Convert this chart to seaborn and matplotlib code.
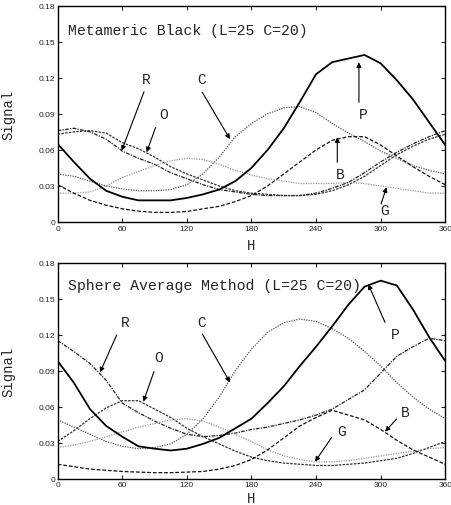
import matplotlib
matplotlib.use("Agg")
import matplotlib.pyplot as plt
import seaborn as sns
import pandas as pd

# ---------------- data ----------------
hue = [0, 15, 30, 45, 60, 75, 90, 105, 120, 135, 150, 165, 180,
       195, 210, 225, 240, 255, 270, 285, 300, 315, 330, 345, 360]

# Top panel: Metameric Black
top_P = [0.065, 0.050, 0.036, 0.026, 0.021, 0.018, 0.018, 0.018, 0.020, 0.023, 0.027, 0.034, 0.045,
         0.060, 0.078, 0.100, 0.123, 0.133, 0.136, 0.139, 0.132, 0.118, 0.102, 0.083, 0.064]
top_C = [0.040, 0.038, 0.034, 0.030, 0.0275, 0.026, 0.026, 0.027, 0.031, 0.040, 0.054, 0.071, 0.082,
         0.090, 0.095, 0.096, 0.091, 0.082, 0.074, 0.067, 0.059, 0.053, 0.047, 0.043, 0.040]
top_B = [0.031, 0.024, 0.018, 0.014, 0.011, 0.009, 0.008, 0.008, 0.0087, 0.011, 0.013, 0.017, 0.022,
         0.030, 0.040, 0.050, 0.060, 0.068, 0.071, 0.071, 0.064, 0.055, 0.046, 0.038, 0.031]
top_G = [0.024, 0.024, 0.025, 0.030, 0.037, 0.042, 0.047, 0.051, 0.053, 0.052, 0.048, 0.043, 0.039,
         0.036, 0.034, 0.032, 0.032, 0.032, 0.033, 0.032, 0.030, 0.028, 0.026, 0.024, 0.024]
top_R = [0.076, 0.078, 0.075, 0.069, 0.059, 0.053, 0.048, 0.041, 0.036, 0.031, 0.027, 0.025, 0.023,
         0.022, 0.022, 0.022, 0.024, 0.028, 0.033, 0.041, 0.050, 0.058, 0.065, 0.071, 0.076]
top_O = [0.073, 0.075, 0.076, 0.074, 0.066, 0.061, 0.054, 0.046, 0.040, 0.035, 0.030, 0.026, 0.024,
         0.023, 0.022, 0.022, 0.023, 0.026, 0.031, 0.038, 0.047, 0.056, 0.063, 0.069, 0.073]

# Bottom panel: Sphere Average Method
bot_P = [0.098, 0.080, 0.058, 0.044, 0.035, 0.027, 0.025, 0.0235, 0.025, 0.029, 0.034, 0.042, 0.050,
         0.063, 0.077, 0.094, 0.110, 0.127, 0.145, 0.160, 0.165, 0.161, 0.141, 0.118, 0.098]
bot_C = [0.049, 0.043, 0.037, 0.031, 0.027, 0.025, 0.026, 0.029, 0.037, 0.050, 0.068, 0.090, 0.108,
         0.122, 0.130, 0.133, 0.131, 0.125, 0.117, 0.106, 0.094, 0.080, 0.068, 0.058, 0.050]
bot_R = [0.115, 0.106, 0.096, 0.082, 0.063, 0.055, 0.048, 0.042, 0.037, 0.035, 0.036, 0.038, 0.041,
         0.043, 0.046, 0.049, 0.053, 0.058, 0.066, 0.074, 0.088, 0.102, 0.110, 0.117, 0.115]
bot_O = [0.031, 0.040, 0.050, 0.059, 0.065, 0.065, 0.058, 0.051, 0.042, 0.035, 0.029, 0.023, 0.018,
         0.015, 0.013, 0.012, 0.011, 0.011, 0.012, 0.013, 0.015, 0.017, 0.021, 0.026, 0.031]
bot_G = [0.026, 0.028, 0.031, 0.035, 0.039, 0.043, 0.046, 0.049, 0.050, 0.048, 0.043, 0.037, 0.031,
         0.024, 0.019, 0.016, 0.014, 0.014, 0.015, 0.017, 0.019, 0.021, 0.023, 0.025, 0.026]
bot_B = [0.012, 0.010, 0.008, 0.007, 0.006, 0.0055, 0.005, 0.005, 0.0055, 0.006, 0.008, 0.011, 0.016,
         0.024, 0.034, 0.044, 0.051, 0.057, 0.053, 0.049, 0.041, 0.032, 0.024, 0.018, 0.012]

x_ticks = [0, 60, 120, 180, 240, 300, 360]
y_ticks = [0, 0.03, 0.06, 0.09, 0.12, 0.15, 0.18]
y_tick_labels = ["0", "0.03", "0.06", "0.09", "0.12", "0.15", "0.18"]

titles = ["Metameric Black (L=25 C=20)", "Sphere Average Method (L=25 C=20)"]

# label positions (text) and arrows (tail -> head) in data coords
top_labels = {"R": (82.6, 0.119), "C": (133.7, 0.119), "O": (98, 0.090),
              "P": (283.8, 0.090), "B": (262.8, 0.040), "G": (304, 0.0102)}
top_arrows = [((80.2, 0.1084), (59.4, 0.0593)), ((91, 0.0788), (82.6, 0.058)),
              ((134.3, 0.1079), (160, 0.069)), ((279.8, 0.0996), (279.8, 0.1329)),
              ((259.7, 0.0497), (259.7, 0.0705)), ((300.3, 0.015), (305.5, 0.0289))]
bot_labels = {"R": (62.5, 0.1308), "C": (133.7, 0.1308), "O": (93.4, 0.101),
              "P": (313.3, 0.1206), "B": (322.6, 0.0558), "G": (263.8, 0.040)}
bot_arrows = [((54.8, 0.1197), (39.3, 0.0886)), ((89.4, 0.0892), (79.6, 0.0642)),
              ((134.3, 0.1206), (160, 0.0803)), ((304, 0.1303), (288.5, 0.162)),
              ((314.8, 0.0497), (304, 0.0392)), ((254.5, 0.0344), (239, 0.0142))]

# ---------------- style ----------------
sns.set_theme(style="white")
plt.rcParams['font.family'] = ['Liberation Sans', 'DejaVu Sans']

MONO = 'Liberation Mono'
styles = {
    "P": dict(color="black", lw=1.3, ls="-"),
    "C": dict(color="#555555", lw=0.9, ls=(0, (1, 1))),
    "B": dict(color="#111111", lw=0.9, ls=(0, (3, 1.5))),
    "G": dict(color="#999999", lw=0.9, ls=(0, (1, 1))),
    "R": dict(color="#222222", lw=0.9, ls=(0, (3, 1, 1, 1))),
    "O": dict(color="#333333", lw=0.9, ls=(0, (2, 1))),
}

fig = plt.figure(figsize=(4.51, 5.06), dpi=100)
ax_top = fig.add_axes([0.1279, 0.5593, 0.8594, 0.4275])
ax_bot = fig.add_axes([0.1279, 0.0520, 0.8594, 0.4269])

panels = [
    (ax_top, {"R": top_R, "O": top_O, "C": top_C, "G": top_G, "B": top_B, "P": top_P},
     titles[0], top_labels, top_arrows, (9.3, 0.160), -0.072),
    (ax_bot, {"R": bot_R, "O": bot_O, "C": bot_C, "G": bot_G, "B": bot_B, "P": bot_P},
     titles[1], bot_labels, bot_arrows, (9.9, 0.161), -0.058),
]

for ax, series, title, labels, arrows, tpos, hy in panels:
    for name, vals in series.items():
        df = pd.DataFrame({"H": hue, "Signal": vals})
        st = styles[name]
        sns.lineplot(data=df, x="H", y="Signal", ax=ax, color=st["color"],
                     linewidth=st["lw"], linestyle=st["ls"], estimator=None,
                     legend=False)
    ax.set_xlim(0, 360)
    ax.set_ylim(0, 0.18)
    ax.set_xticks(x_ticks)
    ax.set_xticklabels([str(t) for t in x_ticks])
    ax.set_yticks(y_ticks)
    ax.set_yticklabels(y_tick_labels)
    ax.tick_params(direction="in", length=3, width=0.8, labelsize=6,
                   top=True, right=True, bottom=True, left=True, pad=2)
    for sp in ax.spines.values():
        sp.set_linewidth(1.0)
        sp.set_color("black")
    ax.set_xlabel("H", fontfamily=MONO, fontsize=10)
    ax.set_ylabel("Signal", fontfamily=MONO, fontsize=10)
    ax.xaxis.set_label_coords(0.5, hy)
    ax.yaxis.set_label_coords(-0.11, 0.5)
    ax.text(tpos[0], tpos[1], title, fontfamily=MONO, fontsize=10.7,
            va="center", ha="left")
    for lab, (lx, ly) in labels.items():
        ax.text(lx, ly, lab, fontfamily=MONO, fontsize=10.5, ha="center", va="center")
    for (tail, head) in arrows:
        ax.annotate("", xy=head, xytext=tail,
                    arrowprops=dict(arrowstyle="-|>", color="black", lw=0.8,
                                    mutation_scale=7, shrinkA=0, shrinkB=0))

fig.savefig("out.png", dpi=100)
